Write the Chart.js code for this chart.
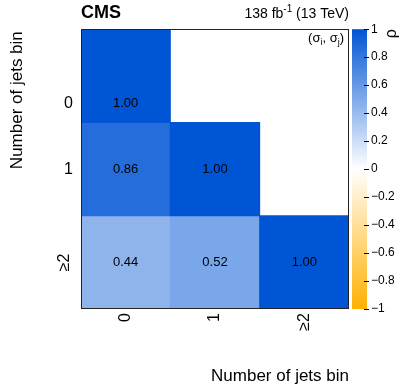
<!DOCTYPE html>
<html>
<head>
<meta charset="utf-8">
<script src="https://cdn.jsdelivr.net/npm/chart.js@4"></script>
<style>
html,body{margin:0;padding:0;background:#fff;}
#wrap{width:407px;height:391px;position:relative;}
</style>
</head>
<body>
<div id="wrap"><canvas id="c"></canvas></div>
<script>
// ---- data ----
const colLabels = ['0', '1', '\u22652'];
const rowLabels = ['0', '1', '\u22652'];
const rhoRow0 = [1.00, null, null];
const rhoRow1 = [0.86, 1.00, null];
const rhoRow2 = [0.44, 0.52, 1.00];
const rhoRows = [rhoRow0, rhoRow1, rhoRow2];
const rhoTicks = [1, 0.8, 0.6, 0.4, 0.2, 0, -0.2, -0.4, -0.6, -0.8, -1];

// ---- styling ----
const FONT = "'Liberation Sans', Arial, Helvetica, sans-serif";
const BLUE = [0, 85, 212];
const ORANGE = [255, 176, 0];
const ROW_LABEL_POS = [0.8, 1.5, 2.5]; // where row labels / numbers sit (reference places row 0 low)

function rhoColor(v) {
  const t = Math.min(1, Math.abs(v));
  const c = v >= 0 ? BLUE : ORANGE;
  const r = Math.round(255 + (c[0] - 255) * t);
  const g = Math.round(255 + (c[1] - 255) * t);
  const b = Math.round(255 + (c[2] - 255) * t);
  return `rgb(${r},${g},${b})`;
}

const datasets = rhoRows.map((row, r) => ({
  label: 'row ' + rowLabels[r],
  data: row.map(v => v === null ? null : [r, r + 1]),
  rho: row,
  rowIndex: r,
  backgroundColor: row.map(v => v === null ? 'rgba(0,0,0,0)' : rhoColor(v)),
  borderWidth: 0,
  grouped: false,
  barPercentage: 1,
  categoryPercentage: 1,
  inflateAmount: 0.5
}));

const overlay = {
  id: 'overlay',
  afterDatasetsDraw(chart) {
    const ctx = chart.ctx;
    const ys = chart.scales.y;
    ctx.save();
    ctx.fillStyle = '#000';
    ctx.font = `13px ${FONT}`;
    ctx.textAlign = 'center';
    ctx.textBaseline = 'middle';
    chart.data.datasets.forEach((ds, di) => {
      const meta = chart.getDatasetMeta(di);
      ds.rho.forEach((v, i) => {
        if (v === null) return;
        const el = meta.data[i];
        ctx.fillText(v.toFixed(2), el.x, ys.getPixelForValue(ROW_LABEL_POS[ds.rowIndex]));
      });
    });
    ctx.restore();
  },
  afterDraw(chart) {
    const ctx = chart.ctx;
    const a = chart.chartArea;
    const ys = chart.scales.y;
    ctx.save();
    // frame
    ctx.strokeStyle = '#222';
    ctx.lineWidth = 1;
    ctx.strokeRect(Math.round(a.left) + 0.5, Math.round(a.top) + 0.5, Math.round(a.right - a.left) - 1, Math.round(a.bottom - a.top) - 1);

    // y tick labels: single characters upright, longer ones vertical (as in reference)
    ctx.fillStyle = '#000';
    ctx.font = `16px ${FONT}`;
    rowLabels.forEach((lab, i) => {
      const y = ys.getPixelForValue(ROW_LABEL_POS[i]);
      ctx.save();
      if (lab.length > 1) {
        ctx.translate(ys.right - 16, y);
        ctx.rotate(-Math.PI / 2);
        ctx.textAlign = 'center';
        ctx.textBaseline = 'middle';
        ctx.fillText(lab, 0, 0);
      } else {
        ctx.textAlign = 'right';
        ctx.textBaseline = 'middle';
        ctx.fillText(lab, ys.right - 8, y);
      }
      ctx.restore();
    });

    // colour bar
    const cb = chart.scales.cb;
    const x0 = cb.left + 3, x1 = cb.left + 18;
    const yTop = cb.getPixelForValue(1), yBot = cb.getPixelForValue(-1);
    const grad = ctx.createLinearGradient(0, yTop, 0, yBot);
    for (let k = 0; k <= 20; k++) {
      const v = 1 - k / 10;
      grad.addColorStop(k / 20, rhoColor(v));
    }
    ctx.fillStyle = grad;
    ctx.fillRect(x0, yTop, x1 - x0, yBot - yTop);
    ctx.strokeStyle = '#000';
    ctx.beginPath();
    rhoTicks.forEach(v => {
      const y = Math.round(cb.getPixelForValue(v)) + 0.5;
      ctx.moveTo(x1 - 3, y);
      ctx.lineTo(x1 + 2, y);
    });
    ctx.stroke();

    // rho title
    ctx.fillStyle = '#000';
    ctx.save();
    ctx.translate(392, a.top);
    ctx.rotate(-Math.PI / 2);
    ctx.font = `16px ${FONT}`;
    ctx.textAlign = 'right';
    ctx.textBaseline = 'middle';
    ctx.fillText('\u03c1', 0, 0);
    ctx.restore();

    // y-axis title (right aligned to the top of the frame)
    ctx.save();
    ctx.translate(17, a.top + 2);
    ctx.rotate(-Math.PI / 2);
    ctx.font = `17px ${FONT}`;
    ctx.textAlign = 'right';
    ctx.textBaseline = 'middle';
    ctx.fillText('Number of jets bin', 0, 0);
    ctx.restore();

    // CMS
    ctx.textBaseline = 'alphabetic';
    ctx.textAlign = 'left';
    ctx.font = `bold 18px ${FONT}`;
    ctx.fillText('CMS', a.left, 18);

    // luminosity label, right aligned
    ctx.textAlign = 'left';
    const big = `14px ${FONT}`, sm = `10px ${FONT}`;
    ctx.font = big; const w3 = ctx.measureText(' (13 TeV)').width; const w1 = ctx.measureText('138 fb').width;
    ctx.font = sm; const w2 = ctx.measureText('-1').width;
    let x = a.right - (w1 + w2 + w3);
    ctx.font = big; ctx.fillText('138 fb', x, 18); x += w1;
    ctx.font = sm; ctx.fillText('-1', x, 12); x += w2;
    ctx.font = big; ctx.fillText(' (13 TeV)', x, 18);

    // (sigma_i, sigma_j)
    const f = `13px ${FONT}`, fs = `9px ${FONT}`;
    const parts = [['(\u03c3', f, 0], ['i', fs, 3], [', \u03c3', f, 0], ['j', fs, 3], [')', f, 0]];
    let tw = 0;
    parts.forEach(p => { ctx.font = p[1]; tw += ctx.measureText(p[0]).width; });
    x = a.right - 5 - tw;
    parts.forEach(p => { ctx.font = p[1]; ctx.fillText(p[0], x, 42 + p[2]); x += ctx.measureText(p[0]).width; });
    ctx.restore();
  }
};

new Chart(document.getElementById('c'), {
  type: 'bar',
  data: { labels: colLabels, datasets },
  options: {
    responsive: true,
    maintainAspectRatio: false,
    animation: false,
    events: [],
    layout: { padding: { top: 23, left: 0, right: 0, bottom: 0 } },
    plugins: { legend: { display: false }, tooltip: { enabled: false } },
    scales: {
      x: {
        type: 'category',
        offset: true,
        grid: { display: false, drawTicks: false },
        border: { display: false },
        ticks: { color: '#000', font: { family: FONT, size: 16 }, minRotation: 90, maxRotation: 90, padding: 4 },
        title: { display: true, text: 'Number of jets bin', align: 'end', color: '#000', font: { family: FONT, size: 17 }, padding: { top: 0, bottom: 4 } },
        afterFit(s) { s.height = 82; }
      },
      y: {
        type: 'linear',
        min: 0, max: 3,
        reverse: true,
        grid: { display: false, drawTicks: false },
        border: { display: false },
        afterBuildTicks(s) { s.ticks = ROW_LABEL_POS.map(v => ({ value: v })); },
        ticks: { display: false },
        afterFit(s) { s.width = 81; }
      },
      cb: {
        type: 'linear',
        axis: 'y',
        position: 'right',
        min: -1, max: 1,
        grid: { display: false, drawTicks: false },
        border: { display: false },
        afterBuildTicks(s) { s.ticks = rhoTicks.map(v => ({ value: v })); },
        ticks: {
          color: '#000', font: { family: FONT, size: 12 }, padding: 22,
          callback: (v) => (v === 0 ? '0' : String(Math.round(v * 10) / 10).replace('-', '\u2212'))
        },
        afterFit(s) { s.width = 58; }
      }
    }
  },
  plugins: [overlay]
});
</script>
</body>
</html>
